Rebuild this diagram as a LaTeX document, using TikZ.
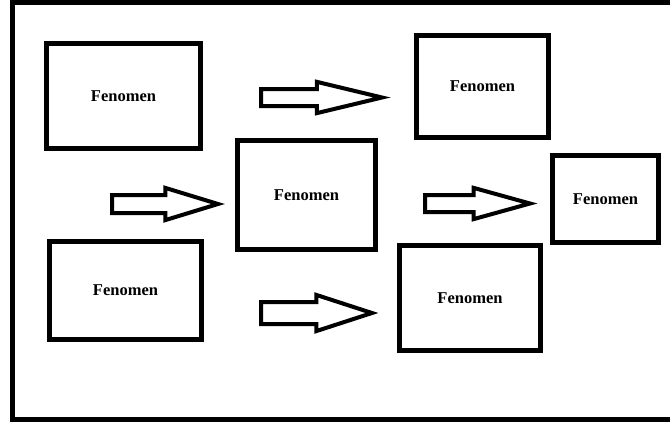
\documentclass[tikz,border=0pt]{standalone}
\usepackage{fontspec}
\setmainfont{Liberation Serif}
\usetikzlibrary{shapes.arrows}

\tikzset{
    fenomen/.style = {draw, line width=5pt, rectangle, inner sep=0pt,
        font=\fontsize{16.5}{18}\selectfont\bfseries},
    flecha/.style = {draw, line width=4pt, single arrow, anchor=tail,
        inner xsep=0pt, outer sep=0pt, miter limit=20}
}

\begin{document}
\begin{tikzpicture}[x=1pt, y=-1pt]
        \useasboundingbox (0,0) rectangle (670,423);
        \clip (0,0) rectangle (670,423);
        \draw[line width=5pt] (12.5,2.5) rectangle (700,419.5);
        \node[fenomen, minimum width=154, minimum height=105] (fenA) at (123.5,96) {Fenomen};
        \node[fenomen, minimum width=132, minimum height=102] (fenB) at (482.5,86.5) {Fenomen};
        \node[fenomen, minimum width=138, minimum height=109] (fenC) at (306.5,195) {Fenomen};
        \node[fenomen, minimum width=106, minimum height=87] (fenD) at (605.5,199) {Fenomen};
        \node[fenomen, minimum width=152, minimum height=98] (fenE) at (125.5,290.5) {Fenomen};
        \node[fenomen, minimum width=141, minimum height=105] (fenF) at (470,298) {Fenomen};
        \node[flecha, inner ysep=6.5, minimum height=121, minimum width=28,
            single arrow tip angle=27] (flechaAB) at (261,97.5) {};
        \node[flecha, inner ysep=7, minimum height=106, minimum width=31,
            single arrow tip angle=34] (flechaC) at (112,204) {};
        \node[flecha, inner ysep=6.5, minimum height=105, minimum width=28,
            single arrow tip angle=31] (flechaCD) at (425,203.5) {};
        \node[flecha, inner ysep=9, minimum height=111, minimum width=35,
            single arrow tip angle=36] (flechaEF) at (261,313) {};
    \end{tikzpicture}
\end{document}
